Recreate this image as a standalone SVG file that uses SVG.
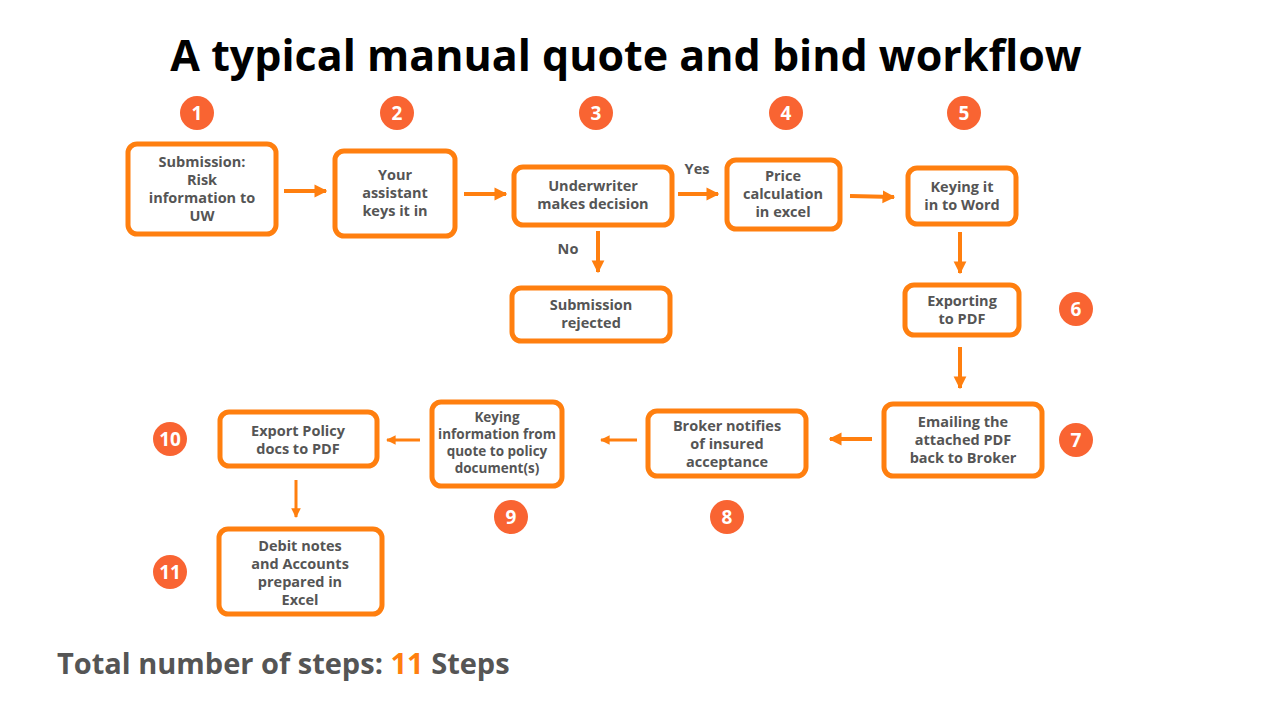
<svg xmlns="http://www.w3.org/2000/svg" width="1280" height="720" viewBox="0 0 1280 720">
<style>
.box{fill:#fff;stroke:#FF7F0F;stroke-width:5}
.t{font-family:"Open Sans","Liberation Sans",sans-serif;font-weight:700;font-size:14.5px;fill:#555;text-anchor:middle}
.s{font-size:13.5px}
.c{fill:#F96432}
.n{font-family:"Open Sans","Liberation Sans",sans-serif;font-weight:700;font-size:19px;fill:#fff;text-anchor:middle}
.a{stroke:#FF7F0F;stroke-width:4;fill:none}
.a2{stroke:#FF7F0F;stroke-width:3;fill:none}
</style>
<defs>
<marker id="ah" viewBox="0 0 10 10" refX="9" refY="5" markerWidth="3.2" markerHeight="3.6" orient="auto" markerUnits="strokeWidth"><path d="M0,0L10,5L0,10z" fill="#FF7F0F"/></marker>
</defs>
<rect width="1280" height="720" fill="#fff"/>
<text x="626" y="71" font-family="Open Sans,Liberation Sans,sans-serif" font-weight="700" font-size="43" text-anchor="middle" fill="#000">A typical manual quote and bind workflow</text>
<g id="connectors">
<path class="a" d="M284,191H326" marker-end="url(#ah)"/>
<path class="a" d="M464,194H506" marker-end="url(#ah)"/>
<path class="a" d="M678,194H718" marker-end="url(#ah)"/>
<path class="a" d="M850,196L894,197" marker-end="url(#ah)"/>
<path class="a" d="M598,231V272" marker-end="url(#ah)"/>
<path class="a" d="M960,232V273" marker-end="url(#ah)"/>
<path class="a" d="M960,347V388" marker-end="url(#ah)"/>
<path class="a" d="M872,439H830" marker-end="url(#ah)"/>
<path class="a2" d="M637,440H601" marker-end="url(#ah)"/>
<path class="a2" d="M420,440H387" marker-end="url(#ah)"/>
<path class="a2" d="M296,480V517" marker-end="url(#ah)"/>
<text class="t" x="697" y="174">Yes</text>
<text class="t" x="568" y="254">No</text>
</g>
<g id="n1"><rect class="box" x="128" y="144" width="148" height="90" rx="9"/><text class="t" x="202" y="167">Submission:<tspan x="202" dy="18">Risk</tspan><tspan x="202" dy="18">information to</tspan><tspan x="202" dy="18">UW</tspan></text></g>
<g id="n2"><rect class="box" x="335" y="151" width="120" height="85" rx="9"/><text class="t" x="395" y="180">Your<tspan x="395" dy="18">assistant</tspan><tspan x="395" dy="18">keys it in</tspan></text></g>
<g id="n3"><rect class="box" x="514" y="167" width="158" height="58" rx="9"/><text class="t" x="593" y="191">Underwriter<tspan x="593" dy="18">makes decision</tspan></text></g>
<g id="n4"><rect class="box" x="727" y="160" width="113" height="69" rx="9"/><text class="t" x="783" y="181">Price<tspan x="783" dy="18">calculation</tspan><tspan x="783" dy="18">in excel</tspan></text></g>
<g id="n5"><rect class="box" x="908" y="168" width="108" height="56" rx="9"/><text class="t" x="962" y="192">Keying it<tspan x="962" dy="18">in to Word</tspan></text></g>
<g id="nr"><rect class="box" x="512" y="288" width="158" height="53" rx="9"/><text class="t" x="591" y="310">Submission<tspan x="591" dy="18">rejected</tspan></text></g>
<g id="n6"><rect class="box" x="905" y="285" width="114" height="50" rx="9"/><text class="t" x="962" y="306">Exporting<tspan x="962" dy="18">to PDF</tspan></text></g>
<g id="n7"><rect class="box" x="884" y="404" width="158" height="72" rx="9"/><text class="t" x="963" y="427">Emailing the<tspan x="963" dy="18">attached PDF</tspan><tspan x="963" dy="18">back to Broker</tspan></text></g>
<g id="n8"><rect class="box" x="648" y="411" width="158" height="65" rx="9"/><text class="t" x="727" y="431">Broker notifies<tspan x="727" dy="18">of insured</tspan><tspan x="727" dy="18">acceptance</tspan></text></g>
<g id="n9"><rect class="box" x="432" y="402" width="130" height="84" rx="9"/><text class="t s" x="497" y="422">Keying</text><text class="t s" x="497" y="439">information from</text><text class="t s" x="497" y="456">quote to policy</text><text class="t s" x="497" y="473">document(s)</text></g>
<g id="n10"><rect class="box" x="220" y="412" width="157" height="54" rx="9"/><text class="t" x="298" y="436">Export Policy<tspan x="298" dy="18">docs to PDF</tspan></text></g>
<g id="n11"><rect class="box" x="219" y="529" width="163" height="85" rx="9"/><text class="t" x="300" y="551">Debit notes<tspan x="300" dy="18">and Accounts</tspan><tspan x="300" dy="18">prepared in</tspan><tspan x="300" dy="18">Excel</tspan></text></g>
<g id="badges">
<circle class="c" cx="197" cy="113" r="17"/><text class="n" x="197" y="120">1</text>
<circle class="c" cx="397" cy="113" r="17"/><text class="n" x="397" y="120">2</text>
<circle class="c" cx="596" cy="113" r="17"/><text class="n" x="596" y="120">3</text>
<circle class="c" cx="786" cy="113" r="17"/><text class="n" x="786" y="120">4</text>
<circle class="c" cx="964" cy="113" r="17"/><text class="n" x="964" y="120">5</text>
<circle class="c" cx="1076" cy="309" r="17"/><text class="n" x="1076" y="316">6</text>
<circle class="c" cx="1076" cy="440" r="17"/><text class="n" x="1076" y="447">7</text>
<circle class="c" cx="727" cy="517" r="17"/><text class="n" x="727" y="524">8</text>
<circle class="c" cx="511" cy="517" r="17"/><text class="n" x="511" y="524">9</text>
<circle class="c" cx="170" cy="439" r="17"/><text class="n" x="170" y="446">10</text>
<circle class="c" cx="170" cy="572" r="17"/><text class="n" x="170" y="579">11</text>
</g>
<text x="57" y="674" font-family="Open Sans,Liberation Sans,sans-serif" font-weight="700" font-size="29" fill="#555">Total number of steps: <tspan fill="#FF7F0F">11</tspan> Steps</text>
</svg>
